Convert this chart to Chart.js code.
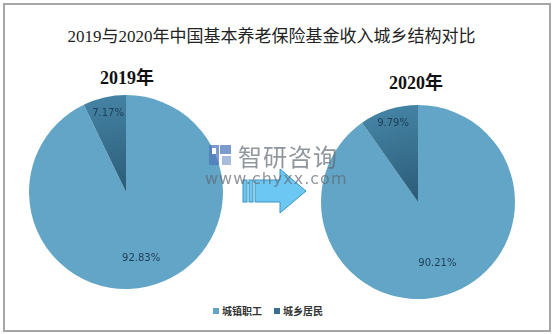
<!DOCTYPE html>
<html>
<head>
<meta charset="utf-8">
<script src="https://cdn.jsdelivr.net/npm/chart.js"></script>
<style>
  body { margin: 0; background: #fff; }
  #wrap { position: relative; width: 553px; height: 334px; overflow: hidden; font-family: "Liberation Serif", "Noto Sans CJK SC", serif; }
  #frame { position: absolute; left: 3px; top: 3px; width: 544px; height: 325px; border: 2px solid #a6a6a6; }
  #title { position: absolute; left: 0; width: 543px; top: 22px; text-align: center; font-size: 17px; color: #222; }
  .year { position: absolute; font-size: 18px; font-weight: bold; color: #111; }
  canvas.pie { position: absolute; }
  #legend { position: absolute; left: 213px; top: 303px; font-family: "Noto Sans CJK SC", sans-serif; font-size: 10px; font-weight: bold; color: #333; white-space: nowrap; }
  #legend span.sw { display: inline-block; width: 6px; height: 6px; margin-right: 3px; vertical-align: 1px; }
  #legend span.item { margin-right: 12px; }
  .wm { position: absolute; color: rgba(95,105,115,0.7); font-family: "DejaVu Sans", sans-serif; }
</style>
</head>
<body>
<div id="wrap">
  <div id="frame"></div>
  <div id="title">2019与2020年中国基本养老保险基金收入城乡结构对比</div>
  <div class="year" style="left:100px;top:63px;">2019年</div>
  <div class="year" style="left:389px;top:68px;">2020年</div>
  <canvas id="pie2019" class="pie" width="194" height="194" style="left:29px;top:95px;"></canvas>
  <canvas id="pie2020" class="pie" width="194" height="194" style="left:321px;top:105px;"></canvas>
  <svg style="position:absolute;left:208px;top:144px;" width="26" height="24">
    <rect x="1" y="1" width="10" height="20" fill="rgba(80,120,185,0.75)"/>
    <rect x="12" y="1" width="11" height="9" fill="rgba(80,120,185,0.75)"/>
    <rect x="4" y="4" width="4" height="6" fill="#fff"/>
    <rect x="14" y="12" width="9" height="9" fill="rgba(80,120,185,0.5)"/>
  </svg>
  <svg style="position:absolute;left:240px;top:166px;" width="70" height="52">
    <rect x="3" y="14" width="4" height="22" fill="#6cc8f2" stroke="#3a93c2" stroke-width="1"/>
    <rect x="9" y="14" width="4" height="22" fill="#6cc8f2" stroke="#3a93c2" stroke-width="1"/>
    <polygon points="15,14 40,14 40,3 66,25 40,47 40,36 15,36" fill="#6cc8f2" stroke="#3a93c2" stroke-width="1"/>
  </svg>
  <div class="wm" style="left:238px;top:138px;font-size:24px;font-family:'Noto Sans CJK SC',sans-serif;letter-spacing:1px;">智研咨询</div>
  <div class="wm" style="left:205px;top:169px;font-size:16px;letter-spacing:1px;">www.chyxx.com</div>
  <div id="legend"><span class="item"><span class="sw" style="background:#62a5c6"></span>城镇职工</span><span class="item"><span class="sw" style="background:#386f8f"></span>城乡居民</span></div>
</div>
<script>
// 数据
const categories = ['城镇职工', '城乡居民'];
const values2019 = [92.83, 7.17];
const values2020 = [90.21, 9.79];
const sliceColors = ['#62a5c6', '#3d7595'];

// label inside each slice, at a fraction of the radius
const sliceLabels = {
    id: 'sliceLabels',
    afterDatasetsDraw(chart, args, opts) {
        const ctx = chart.ctx;
        const meta = chart.getDatasetMeta(0);
        ctx.save();
        ctx.font = '10px "DejaVu Sans", sans-serif';
        ctx.fillStyle = '#1d3e55';
        ctx.textAlign = 'center';
        ctx.textBaseline = 'middle';
        meta.data.forEach((arc, i) => {
            const mid = (arc.startAngle + arc.endAngle) / 2;
            const r = arc.outerRadius * opts.frac[i];
            const v = chart.data.datasets[0].data[i];
            ctx.fillText(v.toFixed(2) + '%', arc.x + Math.cos(mid) * r, arc.y + Math.sin(mid) * r);
        });
        ctx.restore();
    }
};

function sliceFill(context) {
    const chart = context.chart;
    const area = chart.chartArea;
    if (!area || context.dataIndex === 0) return sliceColors[context.dataIndex];
    const cx = (area.left + area.right) / 2, cy = (area.top + area.bottom) / 2;
    const g = chart.ctx.createRadialGradient(cx, cy, 0, cx, cy, (area.right - area.left) / 2);
    g.addColorStop(0, '#2b5b77');
    g.addColorStop(1, '#4482a3');
    return g;
}

function makePie(id, values, frac) {
    new Chart(document.getElementById(id).getContext('2d'), {
        type: 'pie',
        data: { labels: categories, datasets: [{ data: values, backgroundColor: sliceFill, borderWidth: 0 }] },
        options: {
            responsive: false,
            animation: false,
            layout: { padding: 0 },
            plugins: { legend: { display: false }, tooltip: { enabled: false }, sliceLabels: { frac: frac } }
        },
        plugins: [sliceLabels]
    });
}

makePie('pie2019', values2019, [0.7, 0.83]);
makePie('pie2020', values2020, [0.66, 0.85]);
</script>
</body>
</html>
